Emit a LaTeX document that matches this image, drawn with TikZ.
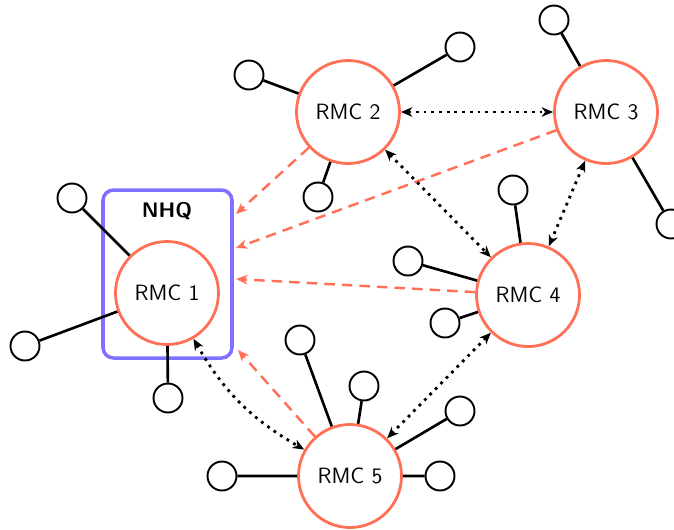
\documentclass[tikz,border=0pt]{standalone}
\usetikzlibrary{arrows.meta}
\definecolor{rmcorange}{RGB}{255,112,87}
\definecolor{hqpurple}{RGB}{128,112,255}
\tikzset{>={Stealth[length=6.5pt,width=5.4pt,inset=2pt]}}

\begin{document}
\begin{tikzpicture}[font=\sffamily,
    rmc/.style={circle, draw=rmcorange, line width=1.6pt, fill=white, minimum size=2.06cm, font=\sffamily\fontsize{12.6}{15}\selectfont},
    site/.style={circle, draw, line width=1.1pt, fill=white, minimum size=0.58cm},
    link/.style={line width=1.5pt},
    report/.style={->, rmcorange, line width=1.4pt, dash pattern=on 6pt off 4pt},
    peer/.style={<->, line width=1.6pt, dash pattern=on 1.6pt off 2.8pt}]
    \useasboundingbox (0,0) rectangle (13.48,-10.58);
    \node[draw=hqpurple, line width=2pt, rounded corners=6pt, minimum width=2.58cm, minimum height=3.36cm] (nhq) at (3.35,-5.48) {};
    \node[font=\sffamily\bfseries\large] (nhqlabel) at (3.34,-4.22) {NHQ};
    % the regional centres
    \node[rmc] (rmc1) at (3.34,-5.86) {RMC 1};
    \node[rmc] (rmc2) at (6.96,-2.24) {RMC 2};
    \node[rmc] (rmc3) at (12.12,-2.24) {RMC 3};
    \node[rmc] (rmc4) at (10.56,-5.90) {RMC 4};
    \node[rmc] (rmc5) at (7.00,-9.52) {RMC 5};
    % sites
    \node[site] (s1a) at (1.44,-3.96) {};
    \node[site] (s1b) at (0.50,-6.92) {};
    \node[site] (s1c) at (3.36,-7.96) {};
    \node[site] (s2a) at (4.98,-1.50) {};
    \node[site] (s2b) at (9.20,-0.94) {};
    \node[site] (s2c) at (6.36,-3.94) {};
    \node[site] (s3a) at (11.08,-0.40) {};
    \node[site] (s3b) at (13.42,-4.48) {};
    \node[site] (s4a) at (10.26,-3.80) {};
    \node[site] (s4b) at (8.16,-5.22) {};
    \node[site] (s4c) at (8.90,-6.46) {};
    \node[site] (s5a) at (6.00,-6.80) {};
    \node[site] (s5b) at (7.28,-7.72) {};
    \node[site] (s5c) at (9.20,-8.22) {};
    \node[site] (s5d) at (4.44,-9.52) {};
    \node[site] (s5e) at (8.80,-9.52) {};
    \draw[link] (rmc1) -- (s1a) (rmc1) -- (s1b) (rmc1) -- (s1c);
    \draw[link] (rmc2) -- (s2a) (rmc2) -- (s2b) (rmc2) -- (s2c);
    \draw[link] (rmc3) -- (s3a) (rmc3) -- (s3b);
    \draw[link] (rmc4) -- (s4a) (rmc4) -- (s4b) (rmc4) -- (s4c);
    \draw[link] (rmc5) -- (s5a) (rmc5) -- (s5b) (rmc5) -- (s5c) (rmc5) -- (s5d) (rmc5) -- (s5e);
    % reporting to NHQ
    \coordinate (hq2) at (4.72,-4.28);
    \coordinate (hq3) at (4.72,-4.96);
    \coordinate (hq4) at (4.72,-5.58);
    \coordinate (hq5) at (4.76,-7.00);
    \draw[report] (rmc2) -- (hq2);
    \draw[report] (rmc3) -- (hq3);
    \draw[report] (rmc4) -- (hq4);
    \draw[report] (rmc5) -- (hq5);
    % peer links
    \draw[peer] (rmc2) -- (rmc3);
    \draw[peer] (rmc2) -- (rmc4);
    \draw[peer] (rmc3) -- (rmc4);
    \draw[peer] (rmc4) -- (rmc5);
    \draw[peer] (rmc1) to[bend right=15] (rmc5);
\end{tikzpicture}
\end{document}
